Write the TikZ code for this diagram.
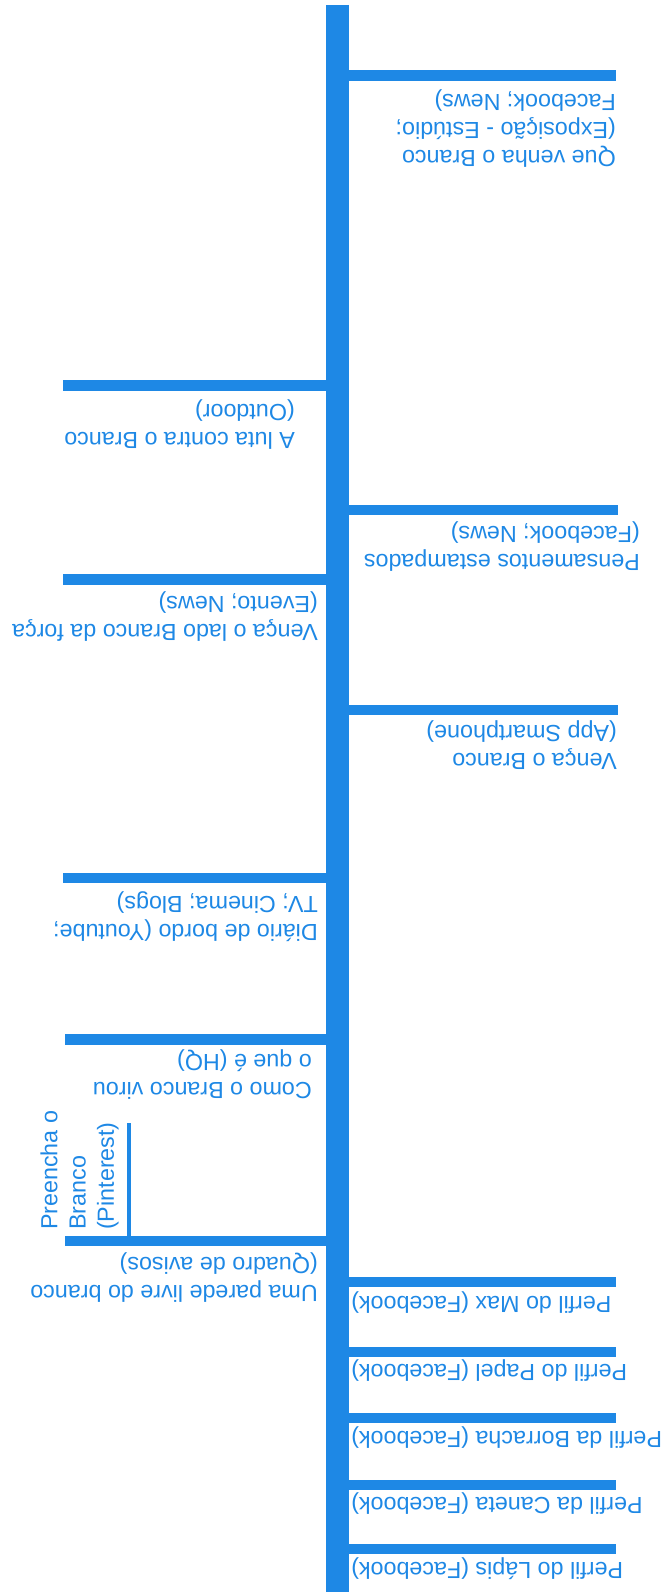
\documentclass[tikz,border=0pt]{standalone}
\usepackage{fontspec}
\setmainfont{Liberation Sans}
\usepackage{tikz}
\usetikzlibrary{positioning, calc}
\definecolor{Azure}{HTML}{1E88E5}
\newcommand{\labelsize}{\fontsize{23.3}{28.3}\selectfont}

\tikzset{
    spine/.style={draw=Azure, line width=23pt},
    rung/.style={draw=Azure, line width=10.5pt},
    twig/.style={draw=Azure, line width=4pt},
    upsidedown/.style={rotate=180, inner sep=0pt, align=left,
                       text=Azure, font=\labelsize},
}

\begin{document}
\begin{tikzpicture}[x=1pt, y=-1pt]
    \useasboundingbox (0,0) rectangle (671,1595);

    % Time line
    \coordinate (top) at (337.5,5);
    \coordinate (bottom) at (337.5,1592);
    \draw[spine] (top) -- (bottom);

    % Rungs to the right
    \foreach \name/\y/\len in {venha/75.5/616, pensa/510/618, vbranco/710/618,
                               max/1282/616, papel/1352/616, borracha/1418/616,
                               caneta/1485/616, lapis/1549/616} {
        \coordinate (\name-a) at (337.5,\y);
        \coordinate (\name-b) at (\len,\y);
        \draw[rung] (\name-a) -- (\name-b);
    }

    % Rungs to the left
    \foreach \name/\y/\len in {luta/385.5/63, vlado/579.5/63, diario/878/63,
                               como/1039.5/65, parede/1241/65} {
        \coordinate (\name-a) at (337.5,\y);
        \coordinate (\name-b) at (\len,\y);
        \draw[rung] (\name-a) -- (\name-b);
    }

    % Branch from the notice board
    \coordinate (pin-a) at (129,1241);
    \coordinate (pin-b) at (129,1123);
    \draw[twig] (pin-a) -- (pin-b);

    % Labels
    \node[upsidedown, anchor=south west] (venhatxt) at (616,89) {
        Que venha o Branco\\(Exposição - Estúdio;\\Facebook; News)
    };
    \node[upsidedown, anchor=south west] (lutatxt) at (295,399) {
        A luta contra o Branco\\(Outdoor)
    };
    \node[upsidedown, anchor=south west] (pensatxt) at (640,521) {
        Pensamentos estampados\\(Facebook; News)
    };
    \node[upsidedown, anchor=south west] (vladotxt) at (318,591) {
        Vença o lado Branco da força\\(Evento; News)
    };
    \node[upsidedown, anchor=south west] (vbrancotxt) at (617,720) {
        Vença o Branco\\(App Smartphone)
    };
    \node[upsidedown, anchor=south west] (diariotxt) at (318,891) {
        Diário de bordo (Youtube;\\TV; Cinema; Blogs)
    };
    \node[upsidedown, anchor=south west] (comotxt) at (312,1049) {
        Como o Branco virou\\o que é (HQ)
    };
    \node[upsidedown, anchor=south west] (paredetxt) at (318,1252) {
        Uma parede livre do branco\\(Quadro de avisos)
    };
    \node[upsidedown, rotate=-90, anchor=south west] (pintxt) at (119,1230) {
        Preencha o\\Branco\\(Pinterest)
    };

    % Profiles
    \node[upsidedown, anchor=south east] (maxtxt) at (351,1291) {Perfil do Max (Facebook)};
    \node[upsidedown, anchor=south east] (papeltxt) at (351,1359) {Perfil do Papel (Facebook)};
    \node[upsidedown, anchor=south east] (borrachatxt) at (351,1426) {Perfil da Borracha (Facebook)};
    \node[upsidedown, anchor=south east] (canetatxt) at (351,1492) {Perfil da Caneta (Facebook)};
    \node[upsidedown, anchor=south east] (lapistxt) at (351,1557) {Perfil do Lápis (Facebook)};
\end{tikzpicture}
\end{document}
